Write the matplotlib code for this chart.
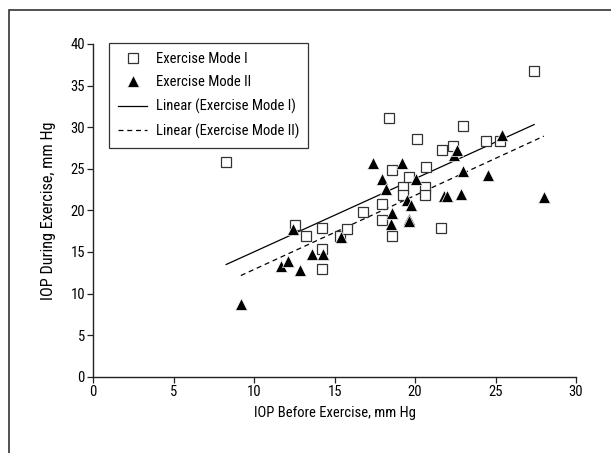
import numpy as np
import matplotlib
matplotlib.use("Agg")
import matplotlib.pyplot as plt
from matplotlib.patches import Rectangle
from matplotlib import font_manager

# ---- data ----
mode1_before = [8.26, 12.55, 13.2, 14.19, 14.19, 14.19, 15.33, 15.79, 16.74, 17.94,
                17.94, 18.54, 18.36, 18.57, 19.23, 19.23, 19.64, 20.1, 20.64, 20.64,
                20.7, 21.6, 21.67, 22.34, 23.0, 24.4, 25.3, 27.4]
mode1_during = [25.8, 18.2, 16.9, 17.9, 15.4, 12.9, 16.9, 17.8, 19.8, 20.8,
                18.8, 16.9, 31.1, 24.8, 22.8, 21.8, 24.0, 28.6, 22.8, 21.8,
                25.25, 17.9, 27.3, 27.7, 30.2, 28.3, 28.3, 36.75]
mode2_before = [9.17, 11.66, 12.07, 12.43, 12.84, 13.57, 14.29, 15.37, 17.4, 17.96,
                18.17, 18.52, 18.58, 19.2, 19.5, 19.6, 19.6, 19.77, 20.04, 21.82,
                21.98, 22.42, 22.63, 22.84, 23.0, 24.53, 25.43, 28.0]
mode2_during = [8.8, 13.35, 13.9, 17.8, 12.8, 14.7, 14.7, 16.8, 25.75, 23.8,
                22.6, 18.4, 19.7, 25.65, 21.2, 19.0, 18.75, 20.7, 23.8, 21.7,
                21.7, 26.6, 27.3, 22.0, 24.7, 24.2, 29.0, 21.6]
# linear trend lines: (slope, intercept)
trend_mode1 = (0.879, 6.23)
trend_mode2 = (0.89, 4.0)
series_labels = ["Exercise Mode I", "Exercise Mode II",
                 "Linear (Exercise Mode I)", "Linear (Exercise Mode II)"]
x_ticks = [0, 5, 10, 15, 20, 25, 30]
y_ticks = [0, 5, 10, 15, 20, 25, 30, 35, 40]
x_label = "IOP Before Exercise, mm Hg"
y_label = "IOP During Exercise, mm Hg"

# ---- font: prefer a condensed sans face if one is installed ----
fam = "Liberation Sans"
stretch = "normal"
fsize = 9.3
ylab_size = 10.4
cands = []
for f in font_manager.fontManager.ttflist:
    n = f.name
    st = str(f.stretch)
    if ("Narrow" in n or "Condensed" in n or st in ("condensed", "semi-condensed")) \
            and "Mono" not in n and "Serif" not in n and f.style == "normal":
        cands.append(f)
if cands:
    pref = ["Liberation Sans Narrow", "Roboto Condensed", "Open Sans Condensed",
            "DejaVu Sans", "Noto Sans", "Roboto", "Open Sans"]
    cands.sort(key=lambda f: next((i for i, p in enumerate(pref) if f.name.startswith(p)), 99))
    c = cands[0]
    fam = c.name
    stretch = str(c.stretch) if str(c.stretch) in ("condensed", "semi-condensed") else "normal"
    fsize = 10.5
    ylab_size = 11.7
plt.rcParams["font.family"] = [fam, "DejaVu Sans"]
plt.rcParams["font.stretch"] = stretch
plt.rcParams["font.size"] = fsize

fig = plt.figure(figsize=(6.11, 4.53), dpi=100)
ax = fig.add_axes([93.3 / 611, (453 - 376.7) / 453, (576 - 93.3) / 611, (376.7 - 44) / 453])

# outer border (clipped by figure edge)
fig.patches.append(Rectangle((9 / 611, -0.2), 2.0, 1.2 - 10 / 453,
                             transform=fig.transFigure, fill=False,
                             edgecolor="#333333", linewidth=1.2))

x1 = np.array(mode1_before); y1 = np.array(mode1_during)
x2 = np.array(mode2_before); y2 = np.array(mode2_during)
xx1 = np.array([x1.min(), x1.max()])
xx2 = np.array([x2.min(), x2.max()])

ax.plot(x1, y1, linestyle="none", marker="s", markersize=6.5, markerfacecolor="white",
        markeredgecolor="#333333", markeredgewidth=0.9, label=series_labels[0], zorder=3)
ax.plot(x2, y2, linestyle="none", marker="^", markersize=8, markerfacecolor="black",
        markeredgecolor="white", markeredgewidth=0.5, label=series_labels[1], zorder=4)
ax.plot(xx1, trend_mode1[0] * xx1 + trend_mode1[1], color="black", linewidth=0.9,
        label=series_labels[2], zorder=2)
ax.plot(xx2, trend_mode2[0] * xx2 + trend_mode2[1], color="black", linewidth=0.9,
        linestyle=(0, (4, 3)), label=series_labels[3], zorder=2)

ax.set_xlim(0, 30)
ax.set_ylim(0, 40)
ax.set_xticks(x_ticks)
ax.set_yticks(y_ticks)
for s in ["top", "right"]:
    ax.spines[s].set_visible(False)
for s in ["left", "bottom"]:
    ax.spines[s].set_linewidth(1.0)
    ax.spines[s].set_color("#222222")
ax.tick_params(direction="out", length=4, width=0.9, labelsize=fsize, color="#222222", pad=2)
ax.set_xlabel(x_label, fontsize=fsize, labelpad=5)
ax.set_ylabel(y_label, fontsize=ylab_size, labelpad=10)

leg = ax.legend(loc="upper left", bbox_to_anchor=(16 / 482.7, 1.003), frameon=True,
                fancybox=False, edgecolor="black", fontsize=fsize, handlelength=2.0,
                handletextpad=0.6, borderpad=0.6, labelspacing=0.65, borderaxespad=0)
leg.get_frame().set_linewidth(0.9)

fig.savefig("out.png", dpi=100)
